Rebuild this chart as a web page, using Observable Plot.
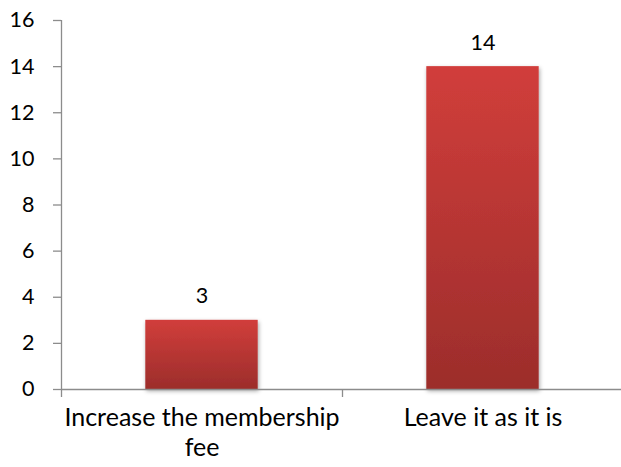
<!DOCTYPE html>
<html>
<head>
<meta charset="utf-8">
<script src="https://cdn.jsdelivr.net/npm/d3@7"></script>
<script src="https://cdn.jsdelivr.net/npm/@observablehq/plot@0.6"></script>
<style>
  html, body { margin: 0; padding: 0; background: #fff; }
  svg { overflow: visible; }
</style>
</head>
<body>
<div id="chart"></div>
<script>
const categories = ["Increase the membership fee", "Leave it as it is"];
const tickLabels = ["Increase the membership\nfee", "Leave it as it is"];
const values = [3, 14];
const yTicks = [0, 2, 4, 6, 8, 10, 12, 14, 16];

const data = categories.map((c, i) => ({category: c, label: tickLabels[i], value: values[i], index: i}));
const boundaries = d3.range(categories.length + 1);

const axisColor = "#8c8c8c";
const font = "Lato, 'Open Sans', sans-serif";
const numSize = 21.5;
const catSize = 25;

const chart = Plot.plot({
  width: 621,
  height: 467,
  marginLeft: 61,
  marginRight: 0,
  marginTop: 20,
  marginBottom: 78,
  style: {fontFamily: font, fontSize: numSize + "px", color: "#000", background: "#fff", overflow: "visible"},
  x: {type: "linear", domain: [0, categories.length], range: [61, 623]},
  y: {domain: [0, 16]},
  marks: [
    Plot.rect(data, {
      x1: d => d.index + 0.3,
      x2: d => d.index + 0.7,
      y1: 0,
      y2: "value",
      fill: "url(#barGrad)",
      className: "bar"
    }),
    Plot.ruleY([0], {stroke: axisColor, strokeWidth: 1.3}),
    Plot.ruleX([0], {stroke: axisColor, strokeWidth: 1.3}),
    Plot.axisY({ticks: yTicks, tickSize: 8, tickPadding: 19, stroke: axisColor, strokeWidth: 1.3, fill: "#000", fontSize: numSize, label: null, tickFormat: d => String(d)}),
    Plot.axisX({ticks: boundaries, tickSize: 8, tickFormat: () => "", stroke: axisColor, strokeWidth: 1.3, label: null}),
    Plot.text(data, {
      x: d => d.index + 0.5,
      y: 0,
      text: "label",
      lineAnchor: "top",
      dy: 16,
      lineHeight: 1.17,
      fontSize: catSize,
      fill: "#000"
    }),
    Plot.text(data, {
      x: d => d.index + 0.5,
      y: "value",
      text: d => String(d.value),
      dy: -24,
      fontSize: numSize,
      fill: "#000"
    })
  ]
});

const svg = d3.select(chart);
const defs = svg.insert("defs", ":first-child");
const grad = defs.append("linearGradient").attr("id", "barGrad").attr("x1", 0).attr("y1", 0).attr("x2", 0).attr("y2", 1);
grad.append("stop").attr("offset", "0%").attr("stop-color", "#d13e3b");
grad.append("stop").attr("offset", "100%").attr("stop-color", "#9c2d2b");
const filt = defs.append("filter").attr("id", "barShadow").attr("x", "-20%").attr("y", "-20%").attr("width", "140%").attr("height", "140%");
filt.append("feDropShadow").attr("dx", 1).attr("dy", 2).attr("stdDeviation", 2).attr("flood-color", "#000").attr("flood-opacity", 0.35);
svg.selectAll("g.bar rect").attr("filter", "url(#barShadow)");

document.getElementById("chart").appendChild(chart);
</script>
</body>
</html>
